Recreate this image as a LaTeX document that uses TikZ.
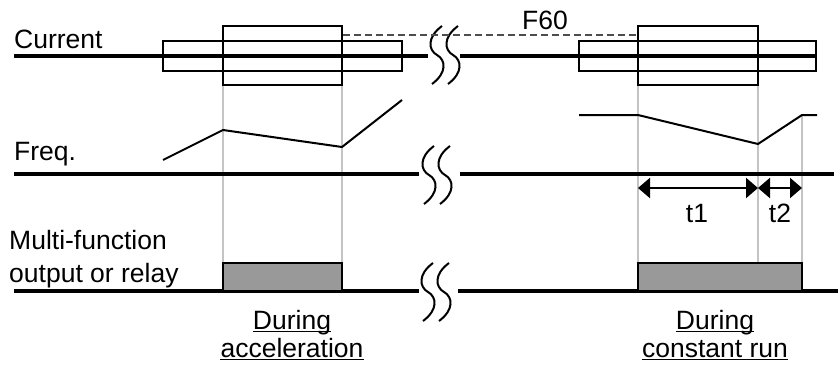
\documentclass[tikz,border=0pt]{standalone}
\usepackage{fontspec}
\setmainfont{Liberation Sans}
\usetikzlibrary{arrows.meta}
\definecolor{guide}{HTML}{C4C4C4}
\definecolor{boxfill}{HTML}{999999}
\definecolor{dashc}{HTML}{4D4D4D}
\tikzset{
  axisline/.style={line width=3.3pt},
  guideline/.style={draw=guide, line width=1.6pt},
  curve/.style={line width=2pt, line join=miter},
  lbl/.style={inner sep=0pt, font=\fontsize{26.5}{33}\selectfont},
  sbox/.style={draw, line width=2.4pt, inner sep=0pt, minimum height=30pt},
  bbox/.style={draw, line width=2.4pt, inner sep=0pt, minimum height=59pt},
  obox/.style={draw, fill=boxfill, line width=2.4pt, inner sep=0pt, minimum height=28pt},
  dim/.style={line width=2.2pt, {Triangle[length=12pt,width=20pt]}-{Triangle[length=12pt,width=20pt]}},
  brk/.pic={
    \draw[line width=2pt] (5,-29) .. controls (-10,-18) and (-9,-5) .. (0,0) .. controls (9,5) and (10,18) .. (-5,29);
    \draw[line width=2pt] (21,-29) .. controls (6,-18) and (7,-5) .. (16,0) .. controls (25,5) and (26,18) .. (11,29);
  }
}
\begin{document}
\begin{tikzpicture}[x=1pt,y=-1pt]
\useasboundingbox (0,0) rectangle (838,367);
% guide lines
\coordinate (g1a) at (223,85);  \coordinate (g1b) at (223,263);
\coordinate (g2a) at (342,85);  \coordinate (g2b) at (342,263);
\coordinate (g3a) at (638,85);  \coordinate (g3b) at (638,263);
\coordinate (g4a) at (758,85);  \coordinate (g4b) at (758,263);
\coordinate (g5a) at (802,115); \coordinate (g5b) at (802,263);
\foreach \g in {1,...,5} \draw[guideline] (g\g a) -- (g\g b);

% axis lines
\coordinate (c0) at (14,56);  \coordinate (c1) at (428,56);
\coordinate (c2) at (460,56); \coordinate (c3) at (816,56);
\coordinate (f0) at (14,174); \coordinate (f1) at (419,174);
\coordinate (f2) at (460,174);\coordinate (f3) at (834,174);
\coordinate (o0) at (14,291); \coordinate (o1) at (419,291);
\coordinate (o2) at (458,291);\coordinate (o3) at (838,291);
\draw[axisline] (c0) -- (c1); \draw[axisline] (c2) -- (c3);
\draw[axisline] (f0) -- (f1); \draw[axisline] (f2) -- (f3);
\draw[axisline] (o0) -- (o1); \draw[axisline] (o2) -- (o3);

% breaks
\pic at (437,55) {brk};
\pic at (429,175) {brk};
\pic at (428,292) {brk};

% current boxes
\node[sbox, minimum width=239pt] (cs1) at (282.5,56) {};
\node[bbox, minimum width=119pt] (cb1) at (282.5,55.5) {};
\node[sbox, minimum width=237pt] (cs2) at (697.5,56) {};
\node[bbox, minimum width=120pt] (cb2) at (698,55.5) {};
\draw[dashc, line width=1.6pt, dash pattern=on 7pt off 4pt] (cb1.north east |- 0,35) -- (cb2.north west |- 0,35);
\node[lbl, anchor=base] (f60) at (545,29) {F60};

% frequency
\coordinate (p1) at (163,160); \coordinate (p2) at (223,130);
\coordinate (p3) at (342,147); \coordinate (p4) at (402,100);
\draw[curve] (p1) -- (p2) -- (p3) -- (p4);
\coordinate (q1) at (579,115); \coordinate (q2) at (638,115);
\coordinate (q3) at (758,144); \coordinate (q4) at (802,115);
\coordinate (q5) at (817,115);
\draw[curve] (q1) -- (q2) -- (q3) -- (q4) -- (q5);

% dimension arrows
\coordinate (a1) at (638,188); \coordinate (a2) at (758,188); \coordinate (a3) at (802,188);
\draw[dim] (a1) -- (a2);
\draw[dim] (a2) -- (a3);
\node[lbl, anchor=base] (t1) at (697,222) {t1};
\node[lbl, anchor=base] (t2) at (780,222) {t2};

% output boxes
\node[obox, minimum width=119pt] (ob1) at (282.5,277) {};
\node[obox, minimum width=164pt] (ob2) at (720,277) {};

% labels
\node[lbl, anchor=base west] (cur) at (14,48) {Current};
\node[lbl, anchor=base west] (frq) at (14,160) {Freq.};
\node[lbl, anchor=base west] (mf1) at (9,249) {Multi-function};
\node[lbl, anchor=base west] (mf2) at (9,282) {output or relay};

\node[lbl, anchor=base] (d1) at (292,329) {During};
\node[lbl, anchor=base] (d2) at (292,357) {acceleration};
\node[lbl, anchor=base] (d3) at (715,329) {During};
\node[lbl, anchor=base] (d4) at (715,357) {constant run};
\foreach \n in {d1,d2,d3,d4}
  \draw[line width=1.6pt] ([yshift=-2.5pt]\n.base west) -- ([yshift=-2.5pt]\n.base east);
\end{tikzpicture}
\end{document}
